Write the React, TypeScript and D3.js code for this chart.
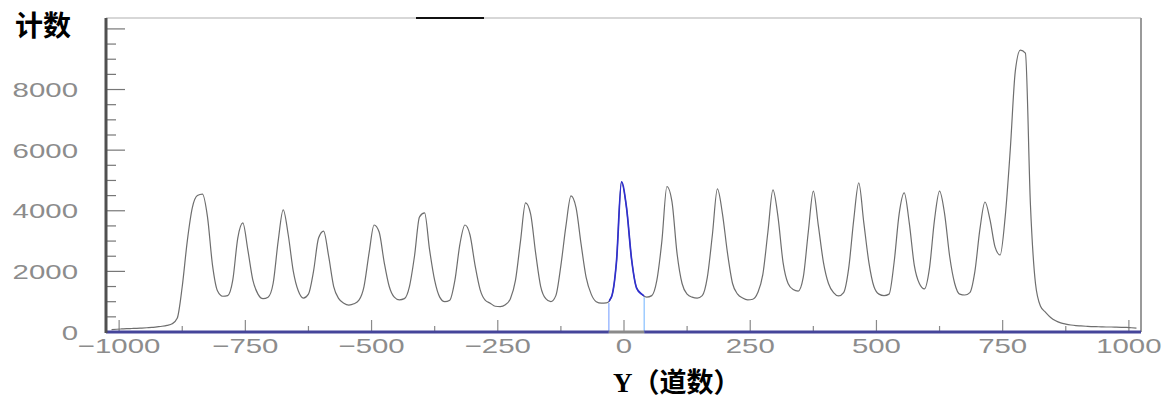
import { useMemo } from 'react';
import * as d3 from 'd3';

// histogram: 10-wide channels starting at -1020
const binStart = -1020;
const binWidth = 10;
const counts = [
  80, 90, 100, 110, 115, 120, 130, 140, 150, 170,
  190, 220, 270, 450, 1500, 3000, 4100, 4500, 4550, 3800,
  2200, 1350, 1180, 1200, 1700, 3100, 3600, 2700, 1700, 1250,
  1100, 1150, 1600, 3000, 4030, 3200, 2000, 1350, 1120, 1250,
  2000, 3100, 3330, 2500, 1500, 1100, 950, 890, 930, 1050,
  1500, 2600, 3530, 3300, 2300, 1500, 1150, 1060, 1100, 1500,
  2500, 3800, 3930, 2700, 1700, 1150, 1000, 1050, 1700, 2900,
  3530, 3200, 2200, 1400, 1050, 950, 850, 840, 900, 1100,
  1700, 3000, 4260, 3900, 2600, 1500, 1100, 1000, 1200, 2200,
  3500, 4490, 4100, 2900, 1800, 1250, 1000, 950, 960, 1150,
  2300, 4950, 4100, 2400, 1450, 1250, 1150, 1200, 1700, 3000,
  4800, 4300, 2600, 1600, 1250, 1150, 1120, 1200, 1800, 3200,
  4720, 3900, 2600, 1600, 1250, 1120, 1060, 1080, 1300, 1900,
  3300, 4690, 3800, 2300, 1600, 1400, 1350, 1800, 3300, 4650,
  3500, 2300, 1600, 1300, 1190, 1300, 2100, 3700, 4920, 3600,
  2300, 1500, 1250, 1200, 1250, 2300, 3900, 4590, 3600, 2200,
  1600, 1420, 2100, 3700, 4650, 3900, 2500, 1600, 1250, 1220,
  1300, 2000, 3400, 4290, 3700, 2800, 2540, 3800, 6000, 8600,
  9300, 9200, 4200, 1600, 850, 650, 480, 370, 300, 260,
  230, 210, 200, 190, 180, 175, 170, 165, 165, 160,
  155, 150, 140, 130,
];
const gate = [-30, 40];

const xTickLabels = [-1000, -750, -500, -250, 0, 250, 500, 750, 1000];
const xMinorTicks = [-875, -625, -375, -125, 125, 375, 625, 875];
const yTickLabels = [0, 2000, 4000, 6000, 8000];
const yLongTicks = [2000, 4000, 6000, 8000, 10000];
const yShortTicks = [500, 1000, 1500, 2500, 3000, 3500, 4500, 5000, 5500, 6500, 7000, 7500, 8500, 9000, 9500];

const W = 1166;
const H = 401;
const plot = { left: 106, right: 1141, top: 18, bottom: 332 };

const fmt = (v: number) => (v < 0 ? `\u2212${-v}` : `${v}`);

export default function App() {
  const x = useMemo(
    () => d3.scaleLinear().domain([-1026, 1024]).range([plot.left, plot.right]),
    [],
  );
  const y = useMemo(
    () => d3.scaleLinear().domain([0, 10360]).range([plot.bottom, plot.top]),
    [],
  );

  // channel centres
  const points: [number, number][] = counts.map((c, i) => [binStart + (i + 0.5) * binWidth, c]);

  const line = d3
    .line<[number, number]>()
    .x((d) => x(d[0]))
    .y((d) => y(d[1]))
    .curve(d3.curveMonotoneX);

  const gated = points.filter((d) => d[0] >= gate[0] - 6 && d[0] <= gate[1] + 6);
  const countAt = (v: number) => counts[Math.floor((v - binStart) / binWidth)];

  const numStyle = { fontFamily: '"Liberation Sans", Arial, sans-serif', fontSize: 21, fill: '#8c8c8c' };

  return (
    <svg width={W} height={H} style={{ position: 'absolute', left: 0, top: 0, background: '#fff' }}>
      <defs>
        <clipPath id="gateClip">
          <rect x={x(gate[0])} y={plot.top} width={x(gate[1]) - x(gate[0])} height={plot.bottom - plot.top} />
        </clipPath>
      </defs>

      {/* frame */}
      <line x1={plot.left} x2={plot.right} y1={plot.top} y2={plot.top} stroke="#b0b0b0" strokeWidth={1.2} />
      <line x1={416} x2={484} y1={plot.top} y2={plot.top} stroke="#111" strokeWidth={1.8} />
      <line x1={plot.right} x2={plot.right} y1={plot.top} y2={plot.bottom} stroke="#9a9a9a" strokeWidth={2} />

      {/* x ticks (pointing up) */}
      {xTickLabels.map((v) => (
        <line key={`xt${v}`} x1={x(v)} x2={x(v)} y1={plot.bottom} y2={plot.bottom - 12} stroke="#8a8a8a" strokeWidth={1.2} />
      ))}
      {xMinorTicks.map((v) => (
        <line key={`xm${v}`} x1={x(v)} x2={x(v)} y1={plot.bottom} y2={plot.bottom - 6} stroke="#8a8a8a" strokeWidth={1.2} />
      ))}

      {/* y ticks (pointing right) */}
      {yLongTicks.map((v) => (
        <line key={`yl${v}`} x1={plot.left} x2={plot.left + 19} y1={y(v)} y2={y(v)} stroke="#777" strokeWidth={1.2} />
      ))}
      {yShortTicks.map((v) => (
        <line key={`ys${v}`} x1={plot.left} x2={plot.left + 10} y1={y(v)} y2={y(v)} stroke="#777" strokeWidth={1.2} />
      ))}

      {/* histogram */}
      <path d={line(points)!} fill="none" stroke="#6e6e6e" strokeWidth={1.2} />

      {/* gate */}
      <line x1={x(gate[0])} x2={x(gate[0])} y1={plot.bottom} y2={y(countAt(gate[0] - 1))} stroke="#8fb0ff" strokeWidth={1.3} />
      <line x1={x(gate[1])} x2={x(gate[1])} y1={plot.bottom} y2={y(countAt(gate[1]))} stroke="#8fc4ff" strokeWidth={1.3} />
      <path d={line(gated)!} fill="none" stroke="#2f2fd0" strokeWidth={1.7} clipPath="url(#gateClip)" />

      {/* baseline */}
      <line x1={plot.left} x2={x(gate[0])} y1={plot.bottom} y2={plot.bottom} stroke="#45459a" strokeWidth={3} />
      <line x1={x(gate[0])} x2={x(gate[1])} y1={plot.bottom} y2={plot.bottom} stroke="#8a8a8a" strokeWidth={3} />
      <line x1={x(gate[1])} x2={plot.right} y1={plot.bottom} y2={plot.bottom} stroke="#45459a" strokeWidth={3} />

      {/* y axis line */}
      <line x1={plot.left} x2={plot.left} y1={plot.top} y2={plot.bottom + 1} stroke="#505050" strokeWidth={3} />

      {/* tick labels */}
      {yTickLabels.map((v) => (
        <text
          key={`yl${v}`}
          transform={`translate(78,${y(v)}) scale(1.4,1)`}
          textAnchor="end"
          dy="0.36em"
          style={numStyle}
        >
          {fmt(v)}
        </text>
      ))}
      {xTickLabels.map((v) => (
        <text
          key={`xl${v}`}
          transform={`translate(${x(v)},353) scale(1.4,1)`}
          textAnchor="middle"
          style={numStyle}
        >
          {fmt(v)}
        </text>
      ))}

      {/* axis titles */}
      <text x={15} y={36} style={{ fontFamily: '"Noto Sans CJK SC", sans-serif', fontSize: 28, fontWeight: 700, fill: '#000' }}>
        计数
      </text>
      <text x={613} y={392} style={{ fontSize: 27, fontWeight: 700, fill: '#000' }}>
        <tspan style={{ fontFamily: '"Liberation Serif", serif' }}>Y</tspan>
        <tspan style={{ fontFamily: '"Noto Sans CJK SC", sans-serif' }}>（道数）</tspan>
      </text>
    </svg>
  );
}
